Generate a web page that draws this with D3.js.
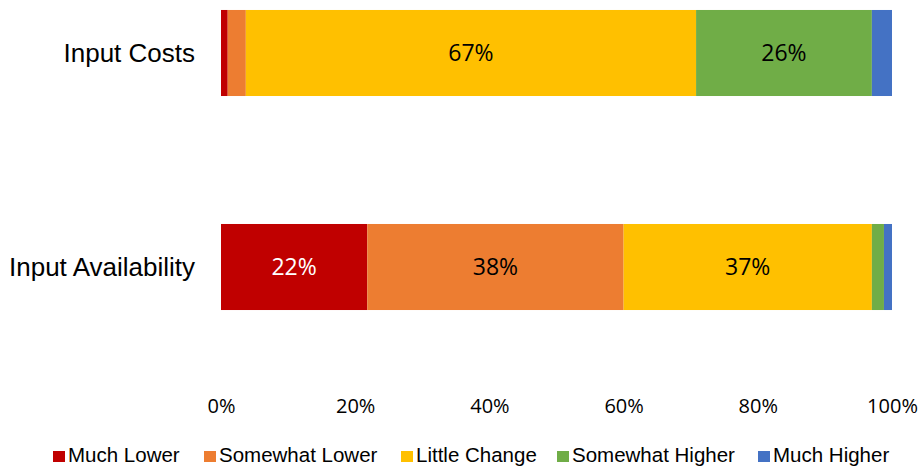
<!DOCTYPE html>
<html>
<head>
<meta charset="utf-8">
<script src="https://cdn.jsdelivr.net/npm/d3@7"></script>
<style>
  body { margin: 0; background: #fff; }
  svg { display: block; }
  .cat { font-family: "Liberation Sans", Arial, sans-serif; font-size: 26px; fill: #000; }
  .tick text { font-family: "Open Sans", "Noto Sans", sans-serif; font-size: 20px; fill: #000; }
  .lbl { font-family: "Open Sans", "Noto Sans", sans-serif; font-size: 23px; }
  .leg { font-family: "Liberation Sans", Arial, sans-serif; font-size: 20.5px; fill: #000; }
</style>
</head>
<body>
<svg id="chart"></svg>
<script>
const width = 919, height = 468;

const categories = ["Input Costs", "Input Availability"];
const seriesNames = ["Much Lower", "Somewhat Lower", "Little Change", "Somewhat Higher", "Much Higher"];
const colors = ["#c00000", "#ed7d31", "#ffc000", "#70ad47", "#4472c4"];
// percent share per category, in series order
const inputCosts = [1.0, 2.7, 67.1, 26.2, 3.0];
const inputAvailability = [21.8, 38.2, 37.0, 1.8, 1.2];
const tickValues = [0, 20, 40, 60, 80, 100];

const values = [inputCosts, inputAvailability];

const svg = d3.select("#chart")
  .attr("width", width)
  .attr("height", height);

const x = d3.scaleLinear().domain([0, 100]).range([221, 892]);
const y = d3.scaleBand().domain(categories).range([-118, 438]).paddingInner(0.598).paddingOuter(0.598);

// stack rows
const rows = categories.map((c, i) => {
  const r = { cat: c };
  seriesNames.forEach((s, j) => r[s] = values[i][j]);
  return r;
});
const stacked = d3.stack().keys(seriesNames)(rows);

const layer = svg.append("g")
  .selectAll("g")
  .data(stacked)
  .join("g")
  .attr("fill", (d, i) => colors[i]);

layer.selectAll("rect")
  .data(d => d.map(p => ({ p, key: d.key })))
  .join("rect")
  .attr("x", d => x(d.p[0]))
  .attr("width", d => x(d.p[1]) - x(d.p[0]))
  .attr("y", d => y(d.p.data.cat))
  .attr("height", y.bandwidth());

// data labels for big segments
layer.selectAll("text")
  .data(d => d.map(p => ({ p, key: d.key })).filter(d => d.p[1] - d.p[0] >= 5))
  .join("text")
  .attr("class", "lbl")
  .attr("x", d => (x(d.p[0]) + x(d.p[1])) / 2)
  .attr("y", d => y(d.p.data.cat) + y.bandwidth() / 2 + 8)
  .attr("text-anchor", "middle")
  .attr("fill", d => d.key === "Much Lower" ? "#fff" : "#000")
  .text(d => Math.round(d.p[1] - d.p[0]) + "%");

// category labels
svg.append("g")
  .selectAll("text")
  .data(categories)
  .join("text")
  .attr("class", "cat")
  .attr("x", 195)
  .attr("y", d => y(d) + y.bandwidth() / 2 + 9)
  .attr("text-anchor", "end")
  .text(d => d);

// x axis (labels only)
const axis = svg.append("g")
  .attr("transform", "translate(0,413)")
  .call(d3.axisBottom(x).tickValues(tickValues).tickFormat(d => d + "%").tickSize(0));
axis.select(".domain").remove();
axis.selectAll(".tick text").attr("y", 0).attr("dy", 0).attr("fill", "#000");

// legend
const legendX = [53, 204, 401, 557, 758];
const legend = svg.append("g")
  .selectAll("g")
  .data(seriesNames)
  .join("g")
  .attr("transform", (d, i) => `translate(${legendX[i]},462)`);
legend.append("rect")
  .attr("x", 0).attr("y", -11)
  .attr("width", 12).attr("height", 11)
  .attr("fill", (d, i) => colors[i]);
legend.append("text")
  .attr("class", "leg")
  .attr("x", 15)
  .attr("y", 0)
  .text(d => d);
</script>
</body>
</html>
